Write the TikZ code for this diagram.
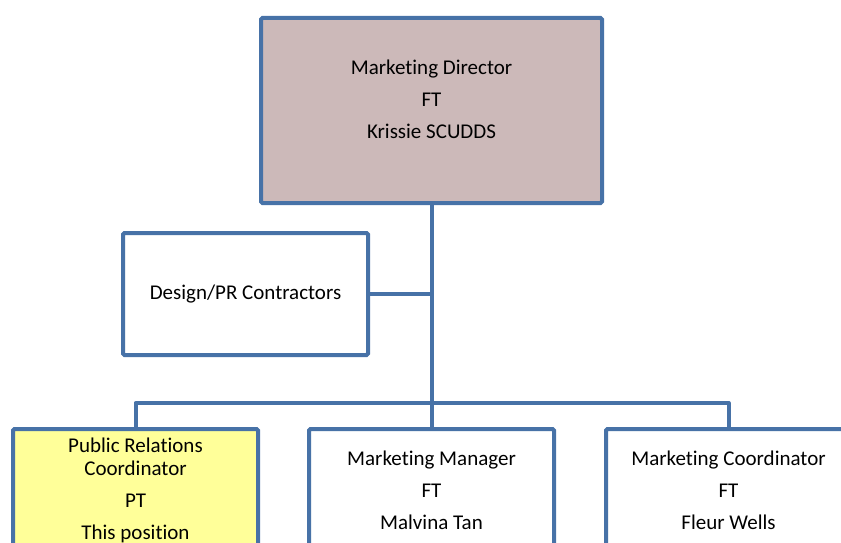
\documentclass[tikz,border=0pt]{standalone}
\usepackage{fontspec}
\setmainfont{Carlito}[Ligatures=NoCommon]
\usetikzlibrary{calc,positioning}
\definecolor{lineblue}{RGB}{71,114,167}
\definecolor{directorfill}{RGB}{204,185,185}
\definecolor{vacantfill}{RGB}{255,255,153}

\begin{document}
\begin{tikzpicture}[x=1pt,y=-1pt,every node/.style={draw=lineblue,line width=4pt,rounded corners=1.5pt,align=center,inner sep=0pt,font=\fontsize{21}{23}\selectfont},
  staffbox/.style={minimum width=245pt,minimum height=122pt,fill=white},
  link/.style={draw=lineblue,line width=4pt,line join=round}]
\useasboundingbox (0,0) rectangle (841,543);
\clip (0,0) rectangle (841,543);
\node [fill=directorfill,minimum width=341pt,minimum height=185pt] (Director) at (431.5,110.5) {Marketing Director\\[9pt]FT\\[9pt]Krissie SCUDDS\\[-1pt]};
\node [staffbox] (Contractors) at (245.5,294) {Design/PR Contractors};
\node [staffbox,fill=vacantfill] (PRCoord) at (135.5,490) {Public Relations\\Coordinator\\[9pt]PT\\[9pt]This position};
\node [staffbox] (MktManager) at (431.5,490) {Marketing Manager\\[9pt]FT\\[9pt]Malvina Tan};
\node [staffbox] (MktCoord) at (728.5,490) {Marketing Coordinator\\[9pt]FT\\[9pt]Fleur Wells};
\coordinate (Bus) at (431.5,403);
\draw [link] (Director.south) -- (MktManager.north);
\draw [link] (Contractors.east) -- (Contractors.east -| Director.south);
\draw [link] (PRCoord.north) |- (Bus) -| (MktCoord.north);
\end{tikzpicture}
\end{document}
